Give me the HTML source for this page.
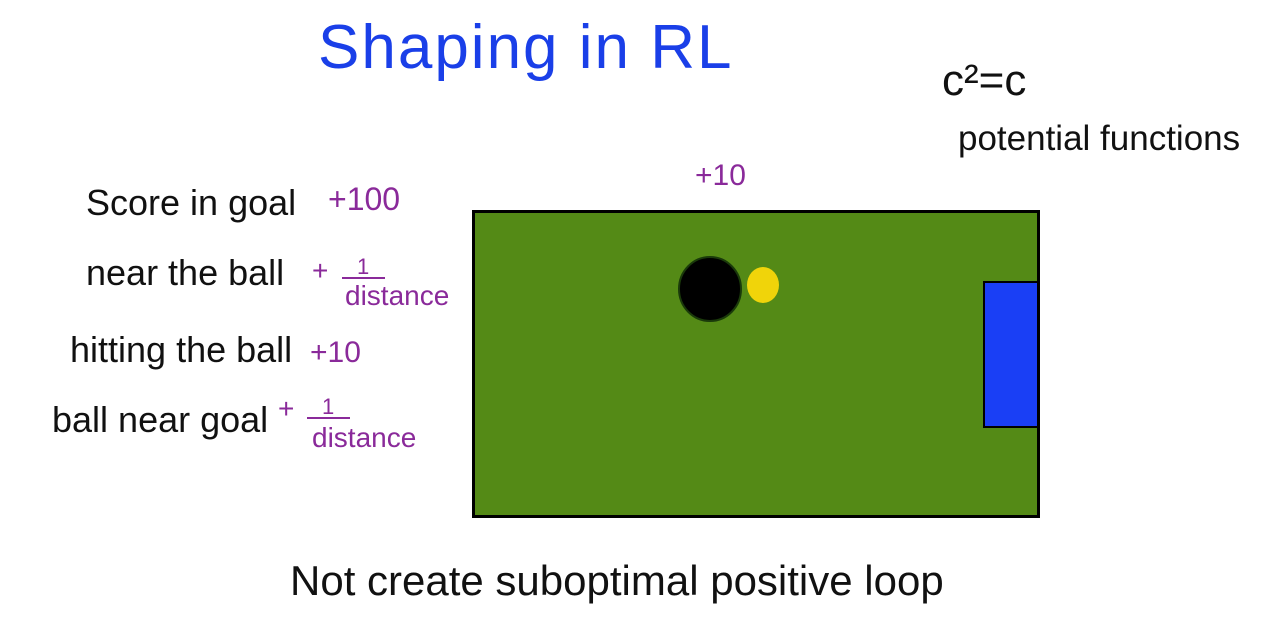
<!DOCTYPE html>
<html><head><style>
html,body{margin:0;padding:0;background:#fff;}
svg{display:block;}
text{font-family:"Liberation Sans",sans-serif;}
</style></head><body>
<svg width="1280" height="630" xmlns="http://www.w3.org/2000/svg">
<rect width="1280" height="630" fill="#fff"/>
<text x="318" y="68" font-size="62" fill="#1a3fe8" letter-spacing="2">Shaping in RL</text>
<text x="942" y="95" font-size="44" fill="#111">c²=c</text>
<text x="958" y="150" font-size="35" fill="#111">potential functions</text>
<text x="695" y="185" font-size="30" fill="#8a2a9a">+10</text>
<text x="86" y="215" font-size="36" fill="#111">Score in goal</text>
<text x="328" y="210" font-size="32" fill="#8a2a9a">+100</text>
<text x="86" y="285" font-size="36" fill="#111">near the ball</text>
<text x="312" y="280" font-size="28" fill="#8a2a9a">+</text>
<text x="357" y="274" font-size="22" fill="#8a2a9a">1</text>
<line x1="342" y1="278" x2="385" y2="278" stroke="#8a2a9a" stroke-width="2"/>
<text x="345" y="305" font-size="28" fill="#8a2a9a">distance</text>
<text x="70" y="362" font-size="36" fill="#111">hitting the ball</text>
<text x="310" y="362" font-size="30" fill="#8a2a9a">+10</text>
<text x="52" y="432" font-size="36" fill="#111">ball near goal</text>
<text x="278" y="418" font-size="28" fill="#8a2a9a">+</text>
<text x="322" y="414" font-size="22" fill="#8a2a9a">1</text>
<line x1="307" y1="418" x2="350" y2="418" stroke="#8a2a9a" stroke-width="2"/>
<text x="312" y="447" font-size="28" fill="#8a2a9a">distance</text>
<rect x="473.5" y="211.5" width="565" height="305" fill="#548a16" stroke="#000" stroke-width="3"/>
<rect x="984" y="282" width="54" height="145" fill="#1a3ff5" stroke="#000" stroke-width="2"/>
<ellipse cx="710" cy="289" rx="31" ry="32" fill="#000" stroke="#1a3a0a" stroke-width="2"/>
<ellipse cx="763" cy="285" rx="16" ry="18" fill="#f0d40a"/>
<text x="290" y="595" font-size="42" fill="#111" letter-spacing="0">Not create suboptimal positive loop</text>
</svg>
</body></html>
